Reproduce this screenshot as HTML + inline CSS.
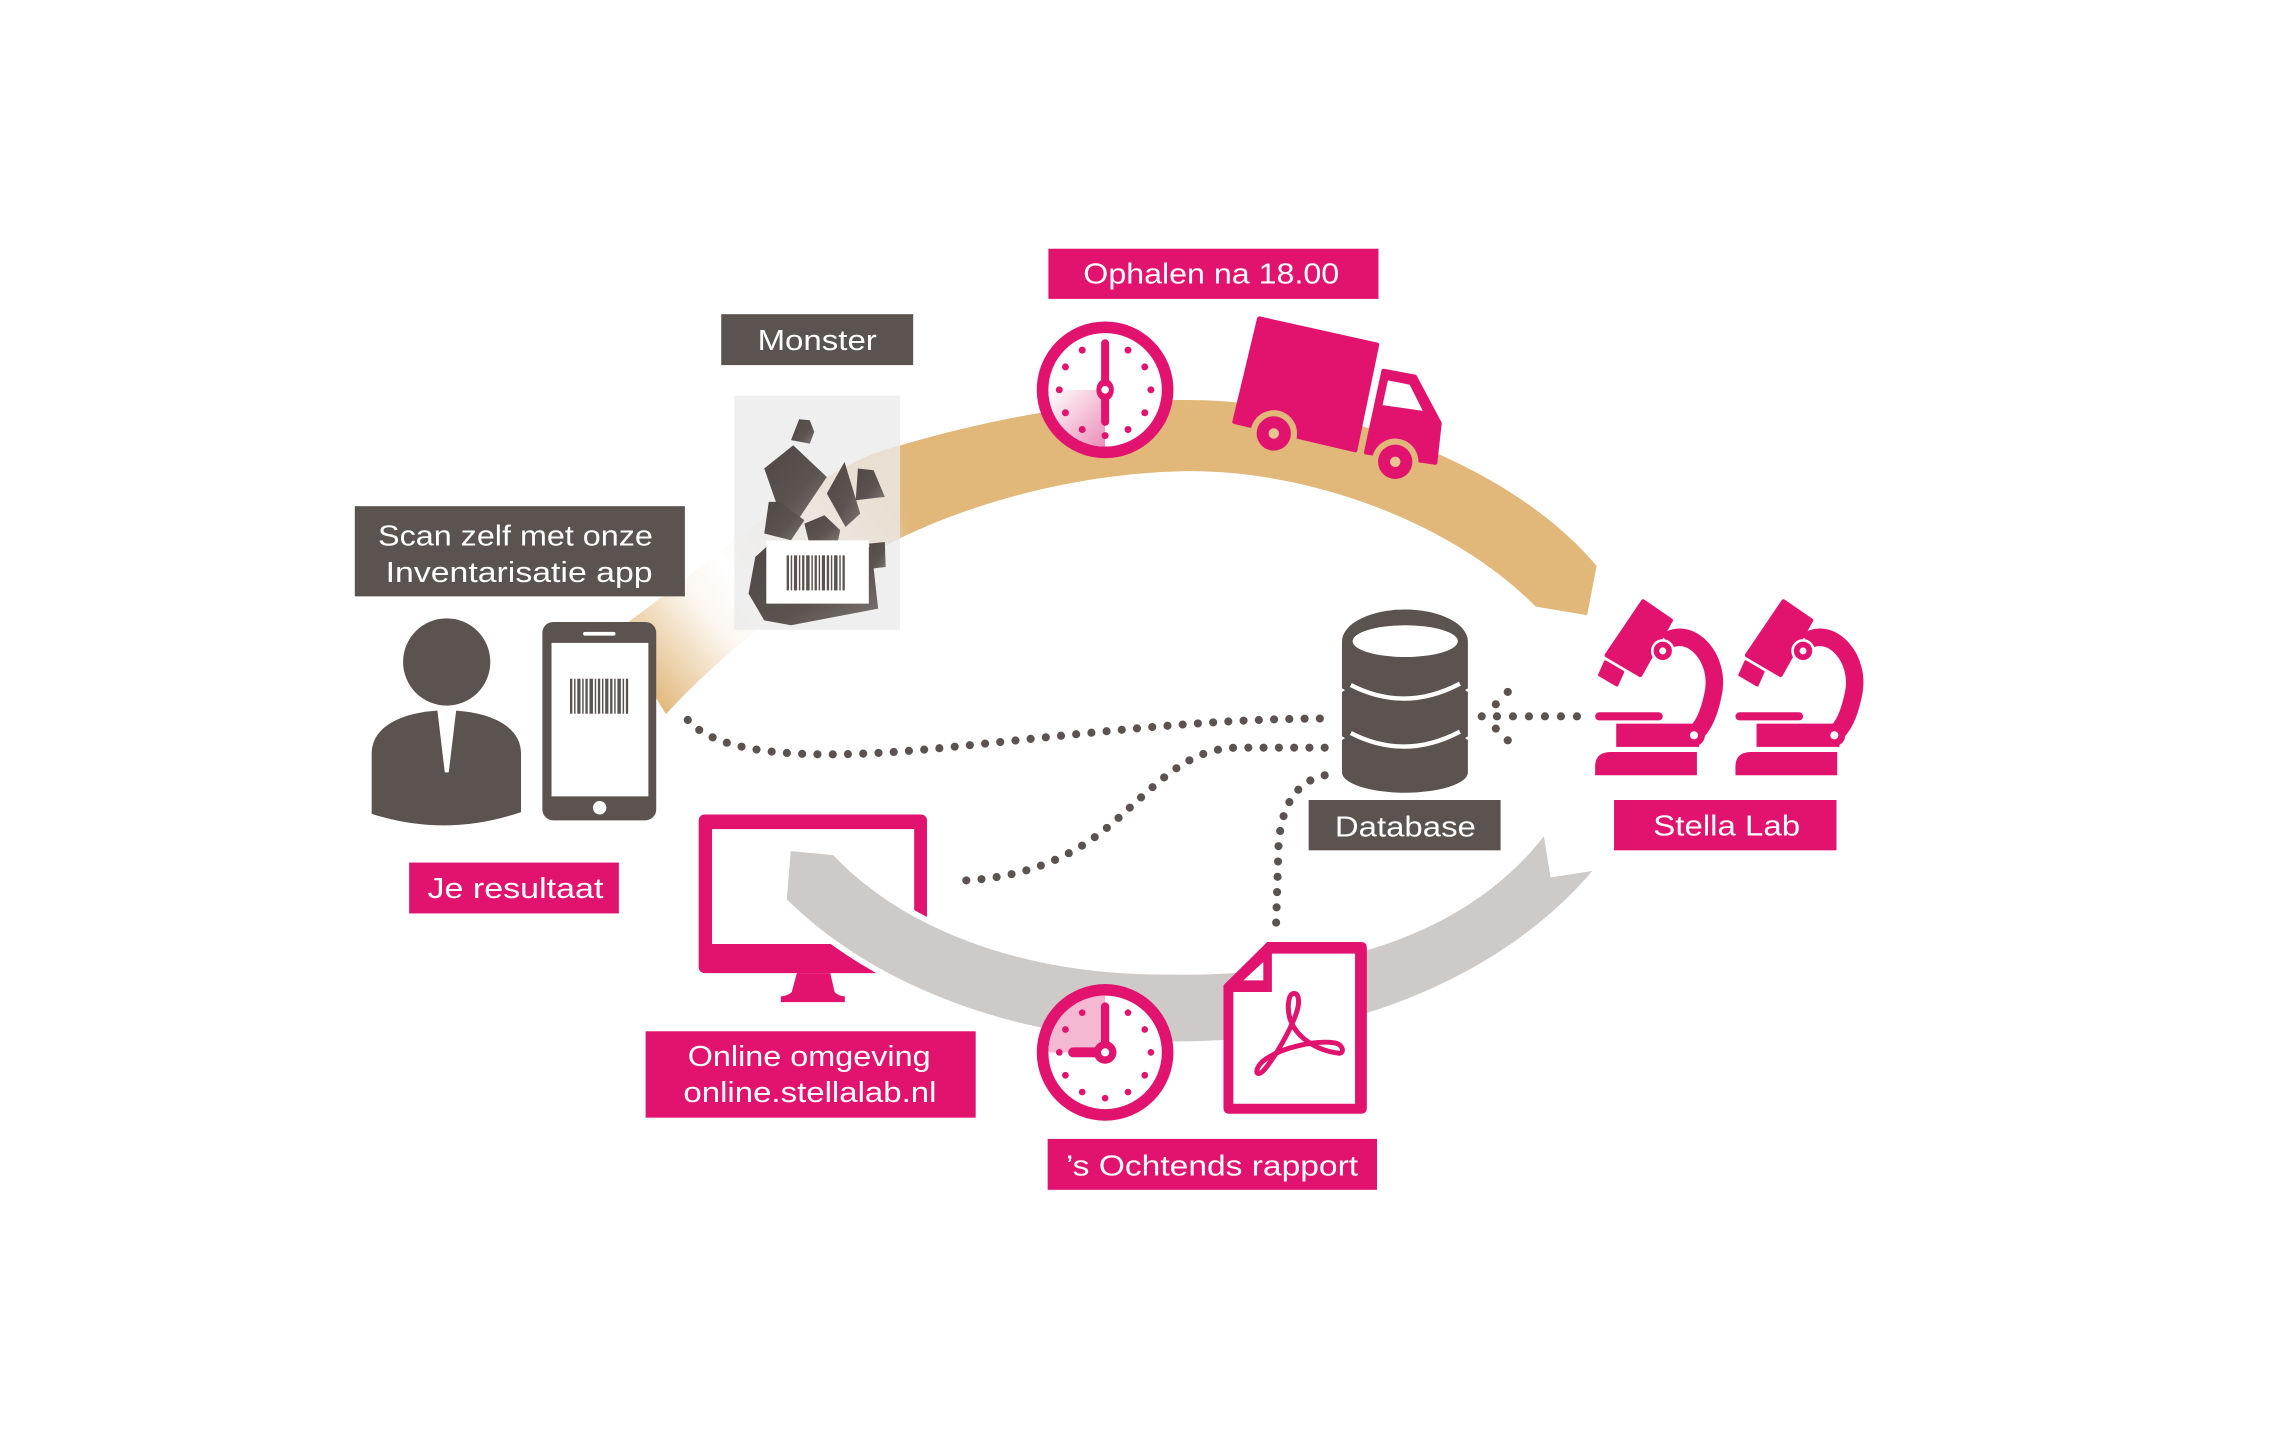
<!DOCTYPE html>
<html>
<head>
<meta charset="utf-8">
<style>
  html, body { margin: 0; padding: 0; background: #ffffff; }
  svg { display: block; }
  text { font-family: "Liberation Sans", "DejaVu Sans", sans-serif; fill: #ffffff; }
</style>
</head>
<body>
<svg width="2280" height="1440" viewBox="0 0 1568 990" preserveAspectRatio="none" xmlns="http://www.w3.org/2000/svg">
  <defs>
    <linearGradient id="fade" gradientUnits="userSpaceOnUse" x1="455" y1="490" x2="625" y2="350">
      <stop offset="0" stop-color="#ffffff" stop-opacity="0"/>
      <stop offset="0.15" stop-color="#ffffff" stop-opacity="0.45"/>
      <stop offset="0.3" stop-color="#ffffff" stop-opacity="0.88"/>
      <stop offset="0.45" stop-color="#ffffff" stop-opacity="1"/>
      <stop offset="0.6" stop-color="#ffffff" stop-opacity="0.85"/>
      <stop offset="0.85" stop-color="#ffffff" stop-opacity="0.2"/>
      <stop offset="1" stop-color="#ffffff" stop-opacity="0"/>
    </linearGradient>
    <linearGradient id="shadeTop" x1="1" y1="1" x2="0" y2="0">
      <stop offset="0" stop-color="#ec8db8"/>
      <stop offset="1" stop-color="#ffffff"/>
    </linearGradient>
    <linearGradient id="rock" x1="0" y1="0" x2="1" y2="1">
      <stop offset="0" stop-color="#4f4845"/>
      <stop offset="0.6" stop-color="#5b5350"/>
      <stop offset="1" stop-color="#7e7673"/>
    </linearGradient>
  </defs>

  <rect x="0" y="0" width="1568" height="990" fill="#ffffff"/>

  <!-- Tan band (top arc) -->
  <path d="M423,434 C470,402 535,340 600,312 C670,290 740,276 812,275 C920,274 1040,320 1098,389 L1091.5,423 L1056,417 C1000,360 900,322 812,324 C740,326 670,345 617,371 C560,400 500,445 458,491 Z" fill="#e1b77a"/>
  <!-- white fade on the left part of the band -->
  <rect x="415" y="300" width="210" height="200" fill="url(#fade)"/>

  <!-- Monitor (under grey band) -->
  <g fill="#e2136e">
    <rect x="480.5" y="560" width="157" height="109" rx="4"/>
    <path d="M548,669 L571,669 L574,682 Q576,684.5 581,685 L581,689 L537,689 L537,685 Q542,684.5 544.5,682 Z"/>
  </g>
  <rect x="489.7" y="570" width="139" height="79" fill="#ffffff"/>

  <!-- Grey band (bottom arc) with white outline -->
  <path d="M542,583 L574,586 C620,635 700,668 800,668 C900,670 1005,648 1063,570 L1068,601 L1100,596 C1040,670 930,718 810,718 C700,718 600,680 539,619 Z" fill="#cdcac8" stroke="#ffffff" stroke-width="4" stroke-linejoin="miter"/>

  <!-- Monster sample card -->
  <rect x="505" y="272" width="114" height="161" fill="#ebebeb" opacity="0.78"/>
  <g fill="url(#rock)">
    <polygon points="544,302.6 549.6,288.2 556.9,288.9 560,296.9 556.9,305"/>
    <polygon points="525.6,322.1 545.5,306.1 568.6,327.9 550.1,355.4 534.8,348.5"/>
    <polygon points="580.8,317.5 591.6,353.1 581.5,362.3 568.6,339.3"/>
    <polygon points="590,322.1 600.8,323.3 608.5,341.6 588.5,343.9"/>
    <polygon points="528.7,345 536.3,345 553.2,357.7 544,371.4 525.6,366.8"/>
    <polygon points="553.2,360 567,354.2 577.8,364.5 576.2,372.6 556.3,372.6"/>
    <polygon points="597.7,373.7 608.5,372.6 609.1,389.8 599.3,390.9"/>
    <polygon points="519.4,382.9 527.1,376 599.2,376 603.9,418.4 544,429.9 525.6,426.5 514.8,408.1"/>
  </g>
  <rect x="527" y="371.5" width="70.5" height="43.5" fill="#ffffff"/>

  <!-- Barcode pattern (phone) -->
  <g id="bc" fill="#5b5350">
    <rect x="392" y="466.6" width="1.6" height="24.1"/>
    <rect x="394.8" y="466.6" width="1" height="24.1"/>
    <rect x="397" y="466.6" width="2.2" height="24.1"/>
    <rect x="400.4" y="466.6" width="1" height="24.1"/>
    <rect x="402.6" y="466.6" width="1.6" height="24.1"/>
    <rect x="405.4" y="466.6" width="2.4" height="24.1"/>
    <rect x="409" y="466.6" width="1" height="24.1"/>
    <rect x="411.2" y="466.6" width="1.6" height="24.1"/>
    <rect x="414" y="466.6" width="1" height="24.1"/>
    <rect x="416.2" y="466.6" width="2.2" height="24.1"/>
    <rect x="419.6" y="466.6" width="1.6" height="24.1"/>
    <rect x="422.4" y="466.6" width="1" height="24.1"/>
    <rect x="424.6" y="466.6" width="2.4" height="24.1"/>
    <rect x="428.2" y="466.6" width="1" height="24.1"/>
    <rect x="430.4" y="466.6" width="1.6" height="24.1"/>
  </g>

  <!-- Person -->
  <g fill="#5b5350">
    <ellipse cx="307.2" cy="455.1" rx="30" ry="30"/>
    <path d="M255.6,559.5 L255.6,518 C255.6,498 280,488.4 307,488.4 C334,488.4 358.3,498 358.3,518 L358.3,558.3 Q307,576 255.6,559.5 Z"/>
  </g>
  <polygon points="300.5,486 314,486 308.6,531 305.9,531" fill="#ffffff"/>

  <!-- Phone -->
  <rect x="373" y="427.6" width="78.3" height="136.4" rx="7.5" fill="#5b5350"/>
  <rect x="379.3" y="442" width="66.6" height="105.5" fill="#ffffff"/>
  <rect x="401" y="434.4" width="22.3" height="2.6" rx="1.3" fill="#ffffff"/>
  <circle cx="412.4" cy="555.3" r="4.6" fill="#ffffff"/>
  <use href="#bc"/>
  <use href="#bc" transform="translate(149,-84.8)"/>

  <!-- Labels -->
  <rect x="721" y="171" width="227" height="34.5" fill="#e2136e"/>
  <text x="833" y="195" font-size="20" text-anchor="middle" textLength="176" lengthAdjust="spacingAndGlyphs">Ophalen na 18.00</text>

  <rect x="496" y="216" width="132" height="35" fill="#5b5350"/>
  <text x="562" y="240.7" font-size="20" text-anchor="middle" textLength="82" lengthAdjust="spacingAndGlyphs">Monster</text>

  <rect x="244" y="348" width="227" height="62" fill="#5b5350"/>
  <text x="354.5" y="375" font-size="20" text-anchor="middle" textLength="189" lengthAdjust="spacingAndGlyphs">Scan zelf met onze</text>
  <text x="357" y="400" font-size="20" text-anchor="middle" textLength="183.6" lengthAdjust="spacingAndGlyphs">Inventarisatie app</text>

  <rect x="281.4" y="593" width="144.2" height="35" fill="#e2136e"/>
  <text x="354.5" y="617.5" font-size="20" text-anchor="middle" textLength="121" lengthAdjust="spacingAndGlyphs">Je resultaat</text>

  <rect x="900" y="550" width="132" height="34.6" fill="#5b5350"/>
  <text x="966.5" y="575" font-size="20" text-anchor="middle" textLength="97" lengthAdjust="spacingAndGlyphs">Database</text>

  <rect x="1110" y="550" width="153" height="34.6" fill="#e2136e"/>
  <text x="1187.5" y="574.5" font-size="20" text-anchor="middle" textLength="101" lengthAdjust="spacingAndGlyphs">Stella Lab</text>

  <rect x="444" y="709" width="227" height="59.4" fill="#e2136e"/>
  <text x="556.5" y="733" font-size="20" text-anchor="middle" textLength="167" lengthAdjust="spacingAndGlyphs">Online omgeving</text>
  <text x="557" y="757.7" font-size="20" text-anchor="middle" textLength="174" lengthAdjust="spacingAndGlyphs">online.stellalab.nl</text>

  <rect x="720.5" y="783" width="226.5" height="35" fill="#e2136e"/>
  <text x="833.5" y="808" font-size="20" text-anchor="middle" textLength="201" lengthAdjust="spacingAndGlyphs">’s Ochtends rapport</text>

  <!-- Top clock -->
  <circle cx="760" cy="268" r="47" fill="#e2136e"/>
  <circle cx="760" cy="268" r="39" fill="#ffffff"/>
  <path d="M760,268 L760,307 A39,39 0 0 1 721,268 Z" fill="url(#shadeTop)"/>
  <g fill="#e2136e">
    <circle cx="775.75" cy="240.72" r="2.4"/>
    <circle cx="787.28" cy="252.25" r="2.4"/>
    <circle cx="791.5" cy="268" r="2.4"/>
    <circle cx="787.28" cy="283.75" r="2.4"/>
    <circle cx="775.75" cy="295.28" r="2.4"/>
    <circle cx="760" cy="299.5" r="2.4"/>
    <circle cx="744.25" cy="295.28" r="2.4"/>
    <circle cx="732.72" cy="283.75" r="2.4"/>
    <circle cx="728.5" cy="268" r="2.4"/>
    <circle cx="732.72" cy="252.25" r="2.4"/>
    <circle cx="744.25" cy="240.72" r="2.4"/>
  </g>
  <line x1="760" y1="236" x2="760" y2="290" stroke="#e2136e" stroke-width="5.5" stroke-linecap="round"/>
  <ellipse cx="760" cy="268" rx="6" ry="7.5" fill="#e2136e"/>
  <circle cx="760" cy="268" r="2.6" fill="#ffffff"/>

  <!-- Truck -->
  <g fill="#e2136e" stroke="#e2136e" stroke-width="3" stroke-linejoin="round">
    <polygon points="866,219 947,237 932,309.5 849,290"/>
    <polygon points="951.5,255 973,259 990,291 987,318 939.5,311"/>
  </g>
  <polygon points="954.5,261.5 969.5,264.5 978.5,282.5 950.8,278.5" fill="#ffffff"/>
  <circle cx="876" cy="298" r="16" fill="#e1b77a"/>
  <circle cx="959.5" cy="317.5" r="16" fill="#e1b77a"/>
  <circle cx="876" cy="298" r="11.8" fill="#e2136e"/>
  <circle cx="959.5" cy="317.5" r="11.8" fill="#e2136e"/>
  <circle cx="876" cy="298" r="3.6" fill="#e8c591"/>
  <circle cx="959.5" cy="317.5" r="3.6" fill="#e8c591"/>

  <!-- Bottom clock -->
  <circle cx="760" cy="723.5" r="47" fill="#e2136e"/>
  <circle cx="760" cy="723.5" r="39" fill="#ffffff"/>
  <path d="M760,723.5 L721,723.5 A39,39 0 0 1 760,684.5 Z" fill="#f5b8d3"/>
  <g fill="#e2136e">
    <circle cx="775.75" cy="696.22" r="2.3"/>
    <circle cx="787.28" cy="707.75" r="2.3"/>
    <circle cx="791.5" cy="723.5" r="2.3"/>
    <circle cx="787.28" cy="739.25" r="2.3"/>
    <circle cx="775.75" cy="750.78" r="2.3"/>
    <circle cx="760" cy="755" r="2.3"/>
    <circle cx="744.25" cy="750.78" r="2.3"/>
    <circle cx="732.72" cy="739.25" r="2.3"/>
    <circle cx="728.5" cy="723.5" r="2.3"/>
    <circle cx="732.72" cy="707.75" r="2.3"/>
    <circle cx="744.25" cy="696.22" r="2.3"/>
  </g>
  <line x1="760" y1="723.5" x2="760" y2="692" stroke="#e2136e" stroke-width="5.7" stroke-linecap="round"/>
  <line x1="760" y1="723.5" x2="738" y2="723.5" stroke="#e2136e" stroke-width="6.8" stroke-linecap="round"/>
  <circle cx="760" cy="723.5" r="7.8" fill="#e2136e"/>
  <circle cx="760" cy="723.5" r="2.8" fill="#ffffff"/>

  <!-- PDF document -->
  <path d="M871.5,647.6 L936,647.6 Q940,647.6 940,651.6 L940,761.7 Q940,765.7 936,765.7 L845.4,765.7 Q841.4,765.7 841.4,761.7 L841.4,677.4 Z" fill="#e2136e"/>
  <polygon points="874.7,655.6 931.9,655.6 931.9,758.8 848.2,758.8 848.2,682 874.7,682" fill="#ffffff"/>
  <polygon points="855.1,674 868.8,661.4 868.8,674" fill="#ffffff"/>
  <path d="M890,683 C886,683 885,692 887,700 C891,713 905,722 920,724 C925,725 924,718 918,717 C905,715 880,720 868,730 C862,736 864,741 869,736 C876,728 888,708 892,695 C894,688 893,683 890,683 Z" fill="none" stroke="#e2136e" stroke-width="3.4" stroke-linejoin="round"/>

  <!-- Database -->
  <path d="M922.9,441 A43.3,22 0 0 1 1009.5,441 L1009.5,531 A43.3,14 0 0 1 922.9,531 Z" fill="#5b5350"/>
  <ellipse cx="966.4" cy="440.8" rx="36.2" ry="10.9" fill="#ffffff"/>
  <path d="M929,471 Q966,490 1004,470" fill="none" stroke="#ffffff" stroke-width="3"/>
  <path d="M929,504 Q966,523 1004,503" fill="none" stroke="#ffffff" stroke-width="3"/>
  <path d="M921,472 L925,474.5 L921,477 Z M1011.5,472 L1007.5,474.5 L1011.5,477 Z M921,505 L925,507.5 L921,510 Z M1011.5,505 L1007.5,507.5 L1011.5,510 Z" fill="#ffffff"/>

  <!-- Microscopes -->
  <g id="mic">
    <g fill="#e2136e">
      <path d="M1130,413.5 L1149,426.5 L1128,464 L1105,450.5 Z" stroke="#e2136e" stroke-width="3" stroke-linejoin="round"/>
      <path d="M1104,455 L1116,462 L1112,471 L1100,464 Z" stroke="#e2136e" stroke-width="2" stroke-linejoin="round"/>
      <path d="M1146,441 C1162,430 1184,452 1178,478 C1175,492 1171,500 1165,505" fill="none" stroke="#e2136e" stroke-width="12"/>
      <circle cx="1143.5" cy="447.5" r="7.2" stroke="#ffffff" stroke-width="1.8"/>
      <circle cx="1165" cy="505.5" r="7.5"/>
      <rect x="1097" y="489.7" width="46.5" height="5.6" rx="2.8"/>
      <rect x="1111.5" y="497.5" width="57" height="16"/>
      <path d="M1097,533 L1097,527 Q1097,517 1108,517 L1167,517 L1167,533 Z"/>
    </g>
    <circle cx="1143.5" cy="447.5" r="2.4" fill="#ffffff"/>
    <circle cx="1165" cy="505.5" r="2.8" fill="#ffffff"/>
  </g>
  <use href="#mic" transform="translate(96.5,0)"/>

  <!-- Dotted connectors -->
  <g fill="none" stroke="#5b5350" stroke-width="5.6" stroke-linecap="round" stroke-dasharray="0 10.5">
    <path d="M473,495 C495,520 560,523 650,514 C750,504 830,494 911,494"/>
    <path d="M911,514 L850,514 C815,515 795,540 765,566 C735,592 700,604 660,605.5"/>
    <path d="M911,533 C888,538 879,560 879,590 L877.5,638"/>
  </g>
  <g fill="#5b5350">
    <circle cx="1019" cy="492.5" r="2.8"/>
    <circle cx="1029.5" cy="492.5" r="2.8"/>
    <circle cx="1040.5" cy="492.5" r="2.8"/>
    <circle cx="1051.5" cy="492.5" r="2.8"/>
    <circle cx="1062.5" cy="492.5" r="2.8"/>
    <circle cx="1073.5" cy="492.5" r="2.8"/>
    <circle cx="1084.5" cy="492.5" r="2.8"/>
    <circle cx="1028.7" cy="484.2" r="2.8"/>
    <circle cx="1036.9" cy="475.7" r="2.8"/>
    <circle cx="1028.7" cy="500.9" r="2.8"/>
    <circle cx="1036.9" cy="509" r="2.8"/>
  </g>
</svg>
</body>
</html>
